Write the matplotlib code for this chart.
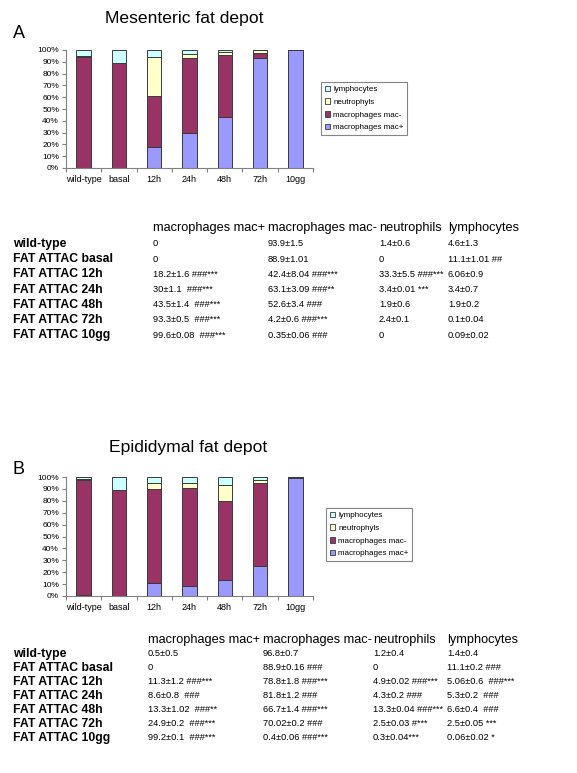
import matplotlib
matplotlib.use("Agg")
import matplotlib.pyplot as plt
import numpy as np
from matplotlib.patches import Patch

plt.rcParams['font.family'] = ['Liberation Sans', 'DejaVu Sans']

categories = ["wild-type", "basal", "12h", "24h", "48h", "72h", "10gg"]
series_names = ["macrophages mac+", "macrophages mac-", "neutrophyls", "lymphocytes"]

# Panel A (mesenteric) bar values, %
macplus_A = [0, 0, 18.2, 30, 43.5, 93.3, 99.6]
macminus_A = [93.9, 88.9, 42.4, 63.1, 52.6, 4.2, 0.35]
neutro_A = [1.4, 0, 33.3, 3.4, 1.9, 2.4, 0]
lympho_A = [4.6, 11.1, 6.06, 3.4, 1.9, 0.1, 0.09]

# Panel B (epididymal) bar values, %
macplus_B = [0.5, 0, 11.3, 8.6, 13.3, 24.9, 99.2]
macminus_B = [96.8, 88.9, 78.8, 81.8, 66.7, 70.02, 0.4]
neutro_B = [1.2, 0, 4.9, 4.3, 13.3, 2.5, 0.3]
lympho_B = [1.4, 11.1, 5.06, 5.3, 6.6, 2.5, 0.06]

table_header = ["macrophages mac+", "macrophages mac-", "neutrophils", "lymphocytes"]
row_labels = ["wild-type", "FAT ATTAC basal", "FAT ATTAC 12h", "FAT ATTAC 24h",
              "FAT ATTAC 48h", "FAT ATTAC 72h", "FAT ATTAC 10gg"]

tabA_macplus = ["0", "0", "18.2±1.6 ###***", "30±1.1  ###***", "43.5±1.4  ###***",
                "93.3±0.5  ###***", "99.6±0.08  ###***"]
tabA_macminus = ["93.9±1.5", "88.9±1.01", "42.4±8.04 ###***", "63.1±3.09 ###**",
                 "52.6±3.4 ###", "4.2±0.6 ###***", "0.35±0.06 ###"]
tabA_neutro = ["1.4±0.6", "0", "33.3±5.5 ###***", "3.4±0.01 ***", "1.9±0.6", "2.4±0.1", "0"]
tabA_lympho = ["4.6±1.3", "11.1±1.01 ##", "6.06±0.9", "3.4±0.7", "1.9±0.2", "0.1±0.04", "0.09±0.02"]

tabB_macplus = ["0.5±0.5", "0", "11.3±1.2 ###***", "8.6±0.8  ###", "13.3±1.02  ###**",
                "24.9±0.2  ###***", "99.2±0.1  ###***"]
tabB_macminus = ["96.8±0.7", "88.9±0.16 ###", "78.8±1.8 ###***", "81.8±1.2 ###",
                 "66.7±1.4 ###***", "70.02±0.2 ###", "0.4±0.06 ###***"]
tabB_neutro = ["1.2±0.4", "0", "4.9±0.02 ###***", "4.3±0.2 ###", "13.3±0.04 ###***",
               "2.5±0.03 #***", "0.3±0.04***"]
tabB_lympho = ["1.4±0.4", "11.1±0.2 ###", "5.06±0.6  ###***", "5.3±0.2  ###", "6.6±0.4  ###",
               "2.5±0.05 ***", "0.06±0.02 *"]

colors = ["#9999FF", "#993366", "#FFFFCC", "#CCFFFF"]

W, H = 577, 773
fig = plt.figure(figsize=(W / 100, H / 100), dpi=100)


def fx(px):
    return px / W


def fy(py):
    return 1 - py / H


def draw_chart(top, bottom, series, legend_box):
    ax = fig.add_axes([fx(66), fy(bottom), fx(313) - fx(66), fy(top) - fy(bottom)])
    x = np.arange(len(categories))
    base = np.zeros(len(categories))
    for vals, c in zip(series, colors):
        ax.bar(x, vals, bottom=base, width=0.41, color=c, edgecolor="#3a3a3a", linewidth=0.7)
        base = base + np.array(vals)
    ax.set_xlim(-0.5, len(categories) - 0.5)
    ax.set_ylim(0, 100)
    ax.set_yticks(np.arange(0, 101, 10))
    ax.set_yticklabels([f"{v}%" for v in range(0, 101, 10)], fontsize=6)
    ax.set_xticks(x)
    ax.set_xticklabels(categories, fontsize=6.5)
    ax.set_xticks(np.arange(-0.5, len(categories), 1.0), minor=True)
    ax.tick_params(axis="x", which="major", length=0, pad=5)
    ax.tick_params(axis="x", which="minor", length=3, color="#808080", width=0.8)
    ax.tick_params(axis="y", length=3, color="#808080", width=0.8, pad=2)
    for s in ["top", "right"]:
        ax.spines[s].set_visible(False)
    for s in ["left", "bottom"]:
        ax.spines[s].set_color("#808080")
        ax.spines[s].set_linewidth(0.8)
    handles = [Patch(facecolor=c, edgecolor="#3a3a3a", linewidth=0.6) for c in colors][::-1]
    labels = series_names[::-1]
    leg = ax.legend(handles, labels, loc="upper left",
                    bbox_to_anchor=(fx(legend_box[0]), fy(legend_box[1])),
                    bbox_transform=fig.transFigure, borderaxespad=0, fontsize=5.8,
                    frameon=True, fancybox=False, edgecolor="#666666",
                    handlelength=0.7, handleheight=0.7, handletextpad=0.4,
                    labelspacing=0.62, borderpad=0.45)
    leg.get_frame().set_linewidth(0.8)
    return ax


def draw_table(header_y, row_y0, dy, col_x, cols):
    for hx, h in zip(col_x, table_header):
        fig.text(fx(hx), fy(header_y), h, fontsize=9.2, va="center", ha="left")
    for i, lab in enumerate(row_labels):
        y = row_y0 + i * dy
        fig.text(fx(13), fy(y), lab, fontsize=8.8, fontweight="bold", va="center", ha="left")
        for cx, col in zip(col_x, cols):
            fig.text(fx(cx), fy(y), col[i], fontsize=6.7, va="center", ha="left")


# Panel A
fig.text(fx(184), fy(18), "Mesenteric fat depot", fontsize=12.6, ha="center", va="center")
fig.text(fx(13), fy(33), "A", fontsize=13, ha="left", va="center")
draw_chart(50, 168, [macplus_A, macminus_A, neutro_A, lympho_A], (321, 82))
draw_table(228, 244, 15.2, [153, 268, 379, 448],
           [tabA_macplus, tabA_macminus, tabA_neutro, tabA_lympho])

# Panel B
fig.text(fx(188), fy(448), "Epididymal fat depot", fontsize=12.6, ha="center", va="center")
fig.text(fx(13), fy(470), "B", fontsize=13, ha="left", va="center")
draw_chart(477, 596, [macplus_B, macminus_B, neutro_B, lympho_B], (326, 508))
draw_table(640, 654, 14.0, [148, 263, 373, 447],
           [tabB_macplus, tabB_macminus, tabB_neutro, tabB_lympho])

fig.savefig("out.png", dpi=100)
